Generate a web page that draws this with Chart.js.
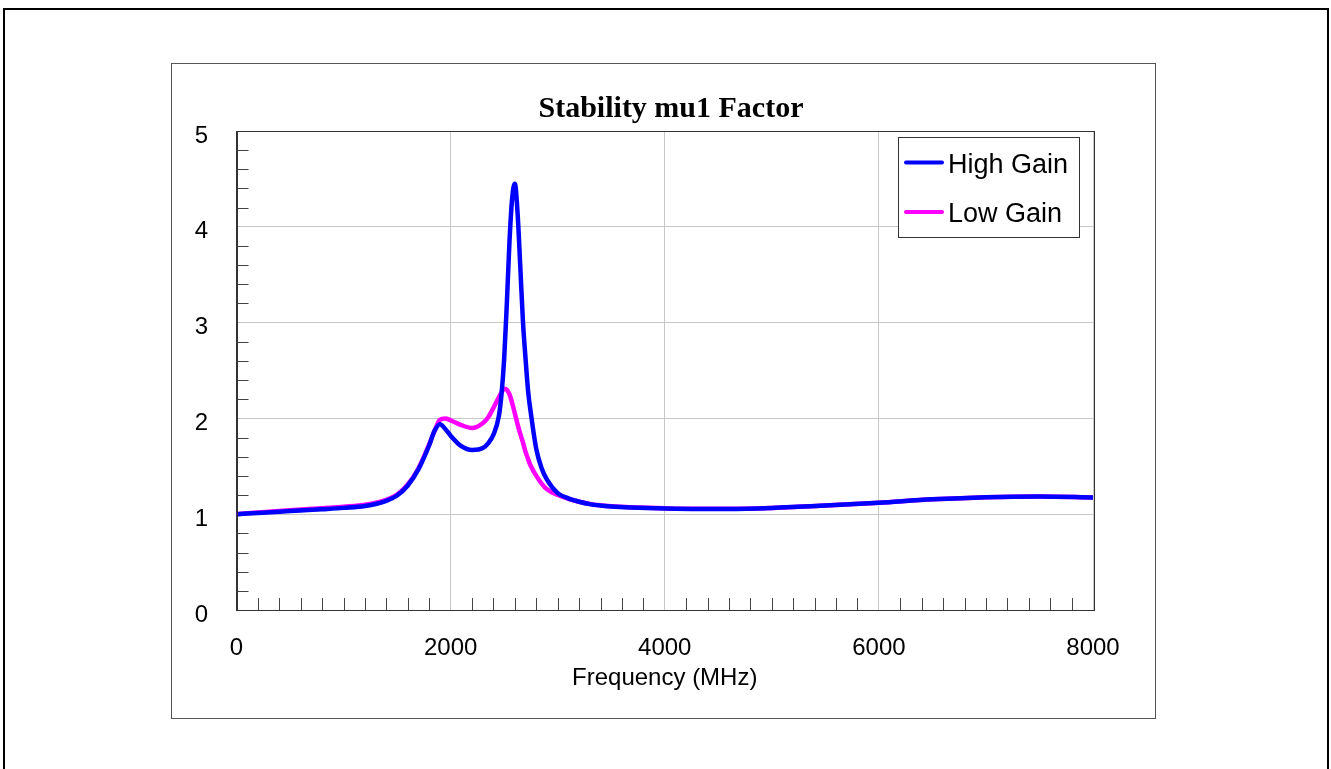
<!DOCTYPE html>
<html>
<head>
<meta charset="utf-8">
<script src="https://cdn.jsdelivr.net/npm/chart.js@4.4.1/dist/chart.umd.min.js"></script>
<style>
  html, body { margin: 0; padding: 0; background: #fff; overflow: hidden; }
  #outer { position: absolute; left: 3px; top: 8px; width: 1326px; height: 900px; box-sizing: border-box; border: 2px solid #000; }
  #inner { position: absolute; left: 171px; top: 63px; width: 985px; height: 656px; box-sizing: border-box; border: 1px solid #555; }
  #wrap { position: absolute; left: 172px; top: 64px; width: 983px; height: 654px; }
</style>
</head>
<body>
<div id="outer"></div>
<div id="inner"></div>
<div id="wrap"><canvas id="c"></canvas></div>
<script>
const chartTitle = 'Stability mu1 Factor';
const xAxisTitle = 'Frequency (MHz)';
const seriesNames = ['High Gain', 'Low Gain'];
const seriesColors = ['#0000ff', '#ff00ff'];
const xTickValues = [0, 2000, 4000, 6000, 8000];
const yTickValues = [0, 1, 2, 3, 4, 5];

const freq = [0,200,400,600,800,1000,1200,1400,1500,1600,1700,1800,1850,1900,1950,2000,2100,2200,2300,2350,2400,2450,2475,2500,2525,2550,2575,2600,2625,2650,2675,2700,2725,2750,2800,2850,2900,3000,3100,3200,3300,3500,3750,4000,4300,4600,5000,5500,6000,6500,7000,7500,8000];

const highGain = [1.00,1.013,1.026,1.039,1.052,1.066,1.085,1.14,1.195,1.30,1.47,1.72,1.87,1.94,1.89,1.82,1.71,1.67,1.69,1.74,1.83,2.02,2.25,2.62,3.20,3.85,4.30,4.45,4.15,3.60,3.02,2.62,2.27,2.05,1.68,1.48,1.36,1.22,1.165,1.13,1.105,1.08,1.068,1.06,1.055,1.055,1.065,1.09,1.12,1.155,1.178,1.186,1.175];

const lowGain = [1.00,1.018,1.033,1.048,1.063,1.078,1.098,1.15,1.205,1.31,1.48,1.73,1.87,1.985,2.00,1.98,1.93,1.90,1.95,2.01,2.11,2.22,2.27,2.31,2.30,2.25,2.16,2.05,1.94,1.84,1.75,1.65,1.57,1.50,1.40,1.32,1.26,1.20,1.16,1.13,1.107,1.082,1.069,1.061,1.056,1.056,1.066,1.09,1.12,1.155,1.178,1.186,1.175];

const toPts = (ys) => freq.map((f, i) => ({ x: f, y: ys[i] }));
const CX = 172, CY = 64;

const decorPlugin = {
  id: 'decor',
  beforeDatasetsDraw(chart) {
    const { ctx, chartArea: a, scales: { x, y } } = chart;
    ctx.save();
    ctx.strokeStyle = '#444';
    ctx.lineWidth = 1;
    ctx.beginPath();
    for (let v = 200; v < 8000; v += 200) {
      if (v % 2000 === 0) continue;
      const px = Math.round(x.getPixelForValue(v)) + 0.5;
      ctx.moveTo(px, a.bottom);
      ctx.lineTo(px, a.bottom - 12);
    }
    for (let k = 1; k < 25; k++) {
      if (k % 5 === 0) continue;
      const py = Math.round(y.getPixelForValue(k * 0.2)) + 0.5;
      ctx.moveTo(a.left, py);
      ctx.lineTo(a.left + 12, py);
    }
    ctx.stroke();
    ctx.restore();
  },
  afterDraw(chart) {
    const { ctx, chartArea: a } = chart;
    ctx.save();
    ctx.strokeStyle = '#333';
    ctx.lineWidth = 1;
    ctx.strokeRect(Math.round(a.left) + 0.5, Math.round(a.top) + 0.5, Math.round(a.right - a.left), Math.round(a.bottom - a.top));
    // title
    ctx.fillStyle = '#000';
    ctx.font = 'bold 30px "Liberation Serif", "Times New Roman", serif';
    ctx.textAlign = 'center';
    ctx.textBaseline = 'alphabetic';
    ctx.fillText(chartTitle, 671 - CX, 116.5 - CY);
    // legend
    const bx = 898 - CX, by = 137 - CY, bw = 181, bh = 100;
    ctx.fillStyle = '#fff';
    ctx.fillRect(bx, by, bw, bh);
    ctx.strokeStyle = '#333';
    ctx.strokeRect(bx + 0.5, by + 0.5, bw, bh);
    const rows = [162.5 - CY, 212 - CY];
    ctx.font = '27px "Liberation Sans", Arial, sans-serif';
    ctx.textAlign = 'left';
    seriesNames.forEach((name, i) => {
      ctx.strokeStyle = seriesColors[i];
      ctx.lineWidth = 4;
      ctx.lineCap = 'round';
      ctx.beginPath();
      ctx.moveTo(906 - CX, rows[i]);
      ctx.lineTo(942 - CX, rows[i]);
      ctx.stroke();
      ctx.fillStyle = '#000';
      ctx.fillText(name, 948 - CX, rows[i] + 10);
    });
    ctx.restore();
  }
};

new Chart(document.getElementById('c'), {
  type: 'line',
  data: {
    datasets: [
      { label: seriesNames[0], data: toPts(highGain), borderColor: seriesColors[0], borderWidth: 4.5, pointRadius: 0, cubicInterpolationMode: 'monotone', fill: false },
      { label: seriesNames[1], data: toPts(lowGain), borderColor: seriesColors[1], borderWidth: 4.5, pointRadius: 0, cubicInterpolationMode: 'monotone', fill: false }
    ]
  },
  options: {
    responsive: true,
    maintainAspectRatio: false,
    animation: false,
    devicePixelRatio: 1,
    layout: { padding: { left: 0, right: 62, top: 67, bottom: 0 } },
    plugins: {
      legend: { display: false },
      tooltip: { enabled: false },
      title: { display: false }
    },
    scales: {
      x: {
        type: 'linear',
        min: 0, max: 8000,
        afterBuildTicks: (s) => { s.ticks = xTickValues.map(v => ({ value: v })); },
        afterFit: (s) => { s.height = 108; },
        ticks: { color: '#000', padding: 24, maxRotation: 0, callback: (v) => String(v), font: { family: '"Liberation Sans", Arial, sans-serif', size: 24 } },
        grid: { color: '#c8c8c8', lineWidth: 1, drawTicks: false },
        border: { display: true, color: '#333', width: 1 },
        title: { display: true, text: xAxisTitle, color: '#000', font: { family: '"Liberation Sans", Arial, sans-serif', size: 24 }, padding: { top: 0, bottom: 25 } }
      },
      y: {
        type: 'linear',
        min: 0, max: 5,
        afterBuildTicks: (s) => { s.ticks = yTickValues.map(v => ({ value: v })); },
        afterFit: (s) => { s.width = 64.5; },
        ticks: { color: '#000', padding: 28.5, labelOffset: 5, callback: (v) => String(v), font: { family: '"Liberation Sans", Arial, sans-serif', size: 24 } },
        grid: { color: '#c8c8c8', lineWidth: 1, drawTicks: false },
        border: { display: true, color: '#333', width: 1 }
      }
    }
  },
  plugins: [decorPlugin]
});
</script>
</body>
</html>
